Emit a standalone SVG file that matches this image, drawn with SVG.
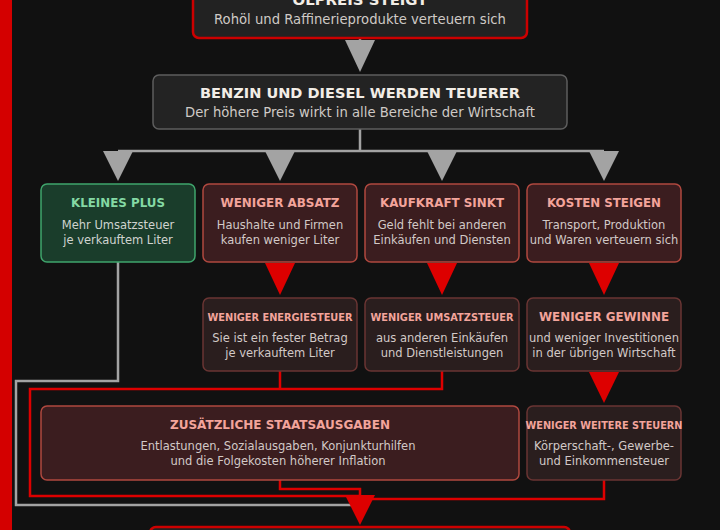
<svg xmlns="http://www.w3.org/2000/svg" width="720" height="530" viewBox="0 0 720 530">
<defs>
<style>
text{font-family:"DejaVu Sans","Liberation Sans",sans-serif;text-anchor:middle}
.tt{font-weight:bold;fill:#f2ede6;font-size:14px}
.ts{fill:#cfcac6;font-size:13.2px}
.rt{font-weight:bold;fill:#f3a49b;font-size:12px}
.gt{font-weight:bold;fill:#84d9a4;font-size:12px}
.st{font-weight:bold;fill:#f3a49b;font-size:11px}
.sub{fill:#d2c9c7;font-size:11.5px}
.gsub{fill:#cfd3cf;font-size:11.5px}
.red{fill:#3b1d1f;stroke:#b0483f;stroke-width:1.5}
.dark{fill:#2a1e1e;stroke:#6a3533;stroke-width:1.5}
.green{fill:#1a3d2b;stroke:#3fa56c;stroke-width:1.5}
.gl{fill:none;stroke:#a3a3a3;stroke-width:2.5}
.rl{fill:none;stroke:#dd0000;stroke-width:2.5}
.ga{fill:#a3a3a3}
.ra{fill:#dd0000}
</style>
</defs>
<rect x="0" y="0" width="720" height="530" fill="#111111"/>
<rect x="0" y="0" width="12" height="530" fill="#d40000"/>

<g id="connectors">
<line x1="360" y1="38" x2="360" y2="41" class="gl"/>
<polygon points="345,40 375,40 360,72" class="ga"/>
<path d="M360,129 V151 M118,151 H604" class="gl"/>
<polygon points="103,151 133,151 118,181" class="ga"/>
<polygon points="265,151 295,151 280,181" class="ga"/>
<polygon points="427,151 457,151 442,181" class="ga"/>
<polygon points="589,151 619,151 604,181" class="ga"/>
<polygon points="265,263 295,263 280,295" class="ra"/>
<polygon points="427,263 457,263 442,295" class="ra"/>
<polygon points="589,263 619,263 604,295" class="ra"/>
<polygon points="589,372 619,372 604,403" class="ra"/>
<path d="M118,262 V381 H16 V505 H360" class="gl"/>
<path d="M280,371 V389 M442,371 V389 H30 V496 H360" class="rl"/>
<path d="M280,480 V489 H360 V496" class="rl"/>
<path d="M604,480 V499 H360" class="rl"/>
<polygon points="345,495 375,495 360,525" class="ra"/>
</g>

<g id="oelpreis">
<rect x="193" y="-22" width="334" height="60" rx="6" fill="#222222" stroke="#cc0000" stroke-width="2.5"/>
<text x="360" y="5" class="tt" textLength="135" lengthAdjust="spacingAndGlyphs">ÖLPREIS STEIGT</text>
<text x="360" y="24" class="ts">Rohöl und Raffinerieprodukte verteuern sich</text>
</g>

<g id="benzin">
<rect x="153" y="75" width="414" height="54" rx="6" fill="#232323" stroke="#5e5e5e" stroke-width="1.5"/>
<text x="360" y="98" class="tt" textLength="320" lengthAdjust="spacingAndGlyphs">BENZIN UND DIESEL WERDEN TEUERER</text>
<text x="360" y="117" class="ts">Der höhere Preis wirkt in alle Bereiche der Wirtschaft</text>
</g>

<g id="kleines-plus">
<rect x="41" y="184" width="154" height="78" rx="6" class="green"/>
<text x="118" y="207" class="gt" textLength="94" lengthAdjust="spacingAndGlyphs">KLEINES PLUS</text>
<text x="118" y="228.5" class="gsub">Mehr Umsatzsteuer</text>
<text x="118" y="243.5" class="gsub">je verkauftem Liter</text>
</g>

<g id="weniger-absatz">
<rect x="203" y="184" width="154" height="78" rx="6" class="red"/>
<text x="280" y="207" class="rt" textLength="119" lengthAdjust="spacingAndGlyphs">WENIGER ABSATZ</text>
<text x="280" y="228.5" class="sub">Haushalte und Firmen</text>
<text x="280" y="243.5" class="sub">kaufen weniger Liter</text>
</g>

<g id="kaufkraft-sinkt">
<rect x="365" y="184" width="154" height="78" rx="6" class="red"/>
<text x="442" y="207" class="rt" textLength="124" lengthAdjust="spacingAndGlyphs">KAUFKRAFT SINKT</text>
<text x="442" y="228.5" class="sub">Geld fehlt bei anderen</text>
<text x="442" y="243.5" class="sub">Einkäufen und Diensten</text>
</g>

<g id="kosten-steigen">
<rect x="527" y="184" width="154" height="78" rx="6" class="red"/>
<text x="604" y="207" class="rt" textLength="114" lengthAdjust="spacingAndGlyphs">KOSTEN STEIGEN</text>
<text x="604" y="228.5" class="sub">Transport, Produktion</text>
<text x="604" y="243.5" class="sub">und Waren verteuern sich</text>
</g>

<g id="weniger-energiesteuer">
<rect x="203" y="298" width="154" height="73" rx="6" class="dark"/>
<text x="280" y="320.5" class="st" textLength="145" lengthAdjust="spacingAndGlyphs">WENIGER ENERGIESTEUER</text>
<text x="280" y="342" class="sub">Sie ist ein fester Betrag</text>
<text x="280" y="357" class="sub">je verkauftem Liter</text>
</g>

<g id="weniger-umsatzsteuer">
<rect x="365" y="298" width="154" height="73" rx="6" class="dark"/>
<text x="442" y="320.5" class="st" textLength="143" lengthAdjust="spacingAndGlyphs">WENIGER UMSATZSTEUER</text>
<text x="442" y="342" class="sub">aus anderen Einkäufen</text>
<text x="442" y="357" class="sub">und Dienstleistungen</text>
</g>

<g id="weniger-gewinne">
<rect x="527" y="298" width="154" height="73" rx="6" class="dark"/>
<text x="604" y="320.5" class="rt" textLength="130" lengthAdjust="spacingAndGlyphs">WENIGER GEWINNE</text>
<text x="604" y="342" class="sub">und weniger Investitionen</text>
<text x="604" y="357" class="sub">in der übrigen Wirtschaft</text>
</g>

<g id="staatsausgaben">
<rect x="41" y="406" width="478" height="74" rx="6" class="red"/>
<text x="280" y="429" class="rt" textLength="220" lengthAdjust="spacingAndGlyphs">ZUSÄTZLICHE STAATSAUSGABEN</text>
<text x="278" y="450" class="sub">Entlastungen, Sozialausgaben, Konjunkturhilfen</text>
<text x="278" y="465" class="sub">und die Folgekosten höherer Inflation</text>
</g>

<g id="weitere-steuern">
<rect x="527" y="406" width="154" height="74" rx="6" class="dark"/>
<text x="604" y="428.5" class="st" textLength="157" lengthAdjust="spacingAndGlyphs">WENIGER WEITERE STEUERN</text>
<text x="604" y="449.5" class="sub">Körperschaft-, Gewerbe-</text>
<text x="604" y="464.5" class="sub">und Einkommensteuer</text>
</g>

<g id="unten">
<rect x="150" y="527" width="420" height="50" rx="6" fill="#222222" stroke="#cc0000" stroke-width="2.5"/>
</g>
</svg>
